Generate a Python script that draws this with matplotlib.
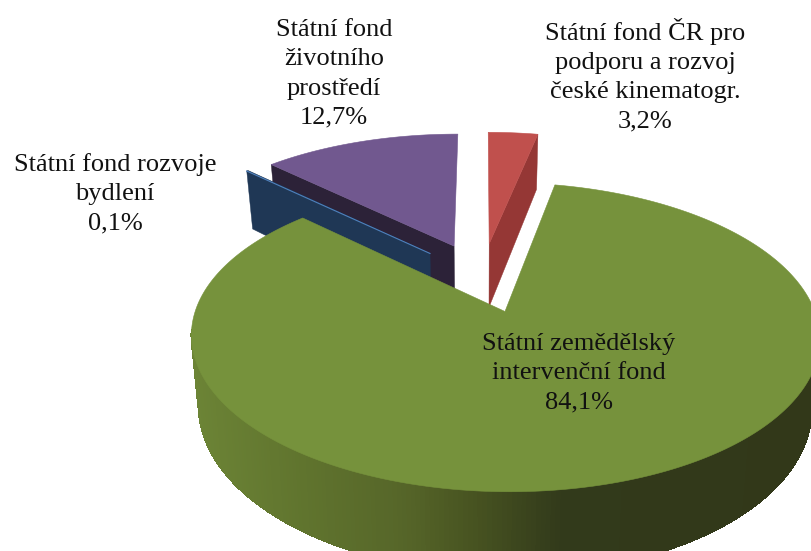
import numpy as np
import matplotlib
matplotlib.use("Agg")
import matplotlib.pyplot as plt
from matplotlib.collections import PolyCollection

# Data (clockwise from 12 o'clock)
labels = ["Státní fond ČR pro\npodporu a rozvoj\nčeské kinematogr.",
          "Státní zemědělský\nintervenční fond",
          "Státní fond rozvoje\nbydlení",
          "Státní fond\nživotního\nprostředí"]
values = [3.2, 84.1, 0.1, 12.7]
value_text = ["3,2%", "84,1%", "0,1%", "12,7%"]
top_colors = ["#C0504D", "#76923C", "#1F3755", "#71588F"]
side_colors = ["#953735", "#76923C", "#1F3755", "#2C2238"]
label_pos = [(645, 75), (579, 373), (115, 194), (334, 74)]

# Projection of the tilted pie plane to the figure
X0, Y0, A, B, K = 482.0, 277.0, 298.0, 139.0, 0.16
DEPTH, SHRINK, EXPLODE = 66.0, 0.975, 0.25


def project(x, y, lower=False):
    w = 1 + K * y
    s = SHRINK if lower else 1.0
    return X0 + s * A * x / w, Y0 - B * y / w + (DEPTH / w if lower else 0.0)


fig = plt.figure(figsize=(8.11, 5.51), dpi=100)
ax = fig.add_axes([0, 0, 1, 1])
ax.set_xlim(0, 811)
ax.set_ylim(551, 0)
ax.axis("off")

fractions = np.array(values) / sum(values)
edges = np.concatenate([[0], np.cumsum(fractions)]) * 2 * np.pi


def wedge_geometry(i):
    mid = (edges[i] + edges[i + 1]) / 2
    cx, cy = EXPLODE * np.sin(mid), EXPLODE * np.cos(mid)
    t = np.linspace(edges[i], edges[i + 1], 400)
    return cx, cy, t, cx + np.sin(t), cy + np.cos(t)


def green_side_color(px):
    return np.array([np.interp(px, [190, 300, 400, 470, 560, 811], c)
                     for c in ([108, 96, 86, 72, 50, 50],
                               [132, 116, 102, 84, 58, 56],
                               [54, 46, 41, 33, 27, 25])]) / 255


def draw_cut_face(cx, cy, t, color, z):
    xr, yr = cx + np.sin(t), cy + np.cos(t)
    p = [project(cx, cy), project(xr, yr), project(xr, yr, True), project(cx, cy, True)]
    ax.fill(*zip(*p), color=color, lw=0.3, zorder=z)


# Navy and purple show the cut face on their left, red on its right
for i, face_angle, z in ((2, edges[2], 3), (3, edges[3], 2), (0, edges[1], 2)):
    cx, cy, t, xr, yr = wedge_geometry(i)
    draw_cut_face(cx, cy, face_angle, side_colors[i], z)
    px, py = project(np.r_[cx, xr], np.r_[cy, yr])
    ax.fill(px, py, color=top_colors[i], lw=0.4, zorder=z + 0.1)

# Thin lit edge of the navy slice
cx, cy, t, xr, yr = wedge_geometry(2)
px, py = project(np.r_[cx, xr[0]], np.r_[cy, yr[0]])
ax.plot(px, py, color="#4F81BD", lw=0.8, zorder=3.2)

# Green slice: shaded rim, then top
cx, cy, t, xr, yr = wedge_geometry(1)
ux, uy = project(xr, yr)
lx, ly = project(xr, yr, True)
quads, cols = [], []
for j in range(len(t) - 1):
    if np.cos(t[j]) > -0.12:
        continue
    quads.append([(ux[j], uy[j]), (ux[j + 1], uy[j + 1]), (lx[j + 1], ly[j + 1]), (lx[j], ly[j])])
    cols.append(green_side_color((ux[j] + ux[j + 1]) / 2))
pc = PolyCollection(quads, facecolors=cols, edgecolors=cols, linewidths=0.6,
                    antialiaseds=False, zorder=4)
ax.add_collection(pc)
px, py = project(np.r_[cx, xr], np.r_[cy, yr])
ax.fill(px, py, color=top_colors[1], lw=0.4, zorder=5)

# Labels
for lab, val, (lx_, ly_) in zip(labels, value_text, label_pos):
    ax.text(lx_, ly_, lab + "\n" + val, ha="center", va="center", ma="center",
            family="Liberation Serif", fontsize=19, color="#111111",
            linespacing=1.42, zorder=10)

fig.savefig("out.png", dpi=100)
